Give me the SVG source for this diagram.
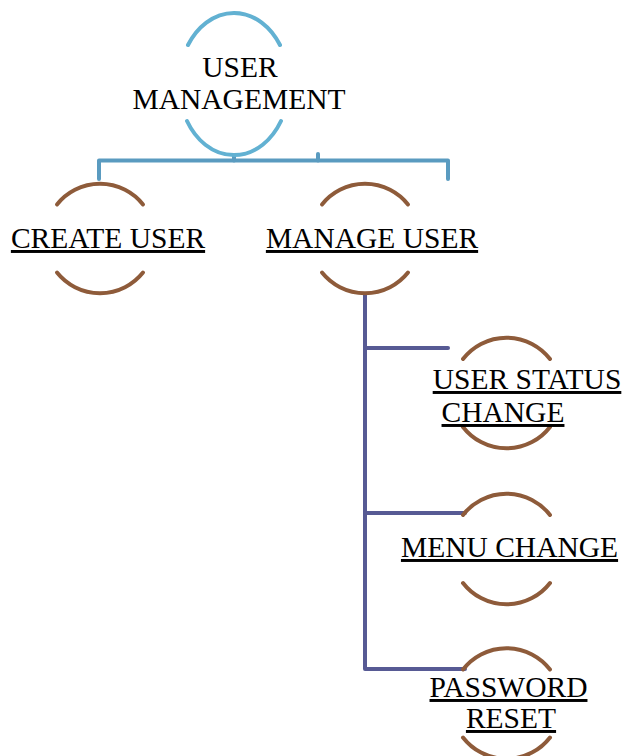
<svg xmlns="http://www.w3.org/2000/svg" width="625" height="756" viewBox="0 0 625 756">
<style>
.lbl{font-family:"Liberation Serif","Times New Roman",serif;font-size:29.5px;fill:#000;text-anchor:middle}
.u{text-decoration:underline}
.arcB{fill:none;stroke:#62b1d2;stroke-width:4;stroke-linecap:round}
.arcR{fill:none;stroke:#8e5b3a;stroke-width:4;stroke-linecap:round}
.cb{fill:none;stroke:#5a9bc0;stroke-width:4;stroke-linecap:round;stroke-linejoin:round}
.cp{fill:none;stroke:#575a94;stroke-width:4;stroke-linecap:round;stroke-linejoin:round}
</style>
<rect width="625" height="756" fill="#fff"/>
<g id="connectors">
<path class="cb" d="M99 179 V160.5 H448 V179"/>
<path class="cb" d="M234 155 V160.5"/>
<path class="cb" d="M318 154 V160.5"/>
<path class="cp" d="M365 294 V669 H465"/>
<path class="cp" d="M365 348 H448"/>
<path class="cp" d="M365 513 H465"/>
</g>
<g id="user-management">
<path class="arcB" d="M188 45 A55 71 0 0 1 280 45"/>
<path class="arcB" d="M187 121 A55 71 0 0 0 281 121"/>
<text class="lbl" x="240" y="77">USER</text>
<text class="lbl" x="239" y="109">MANAGEMENT</text>
</g>
<g id="create-user">
<path class="arcR" d="M57 204.5 A55 55 0 0 1 143 204.5"/>
<path class="arcR" d="M57 272.5 A55 55 0 0 0 143 272.5"/>
<text class="lbl u" x="108" y="248">CREATE USER</text>
</g>
<g id="manage-user">
<path class="arcR" d="M322 204.5 A55 55 0 0 1 408 204.5"/>
<path class="arcR" d="M322 272.5 A55 55 0 0 0 408 272.5"/>
<text class="lbl u" x="372" y="248">MANAGE USER</text>
</g>
<g id="user-status-change">
<path class="arcR" d="M463 359 A55 55 0 0 1 550 359"/>
<path class="arcR" d="M463 427 A55 55 0 0 0 550 427"/>
<text class="lbl u" x="527" y="389">USER STATUS</text>
<text class="lbl u" x="503" y="422">CHANGE</text>
</g>
<g id="menu-change">
<path class="arcR" d="M463 515 A55 55 0 0 1 550 515"/>
<path class="arcR" d="M463 583 A55 55 0 0 0 550 583"/>
<text class="lbl u" x="509.5" y="557">MENU CHANGE</text>
</g>
<g id="password-reset">
<path class="arcR" d="M463 669.5 A55 55 0 0 1 550 669.5"/>
<path class="arcR" d="M463 737.5 A55 55 0 0 0 550 737.5"/>
<text class="lbl u" x="508.5" y="697">PASSWORD</text>
<text class="lbl u" x="511" y="728">RESET</text>
</g>
</svg>
